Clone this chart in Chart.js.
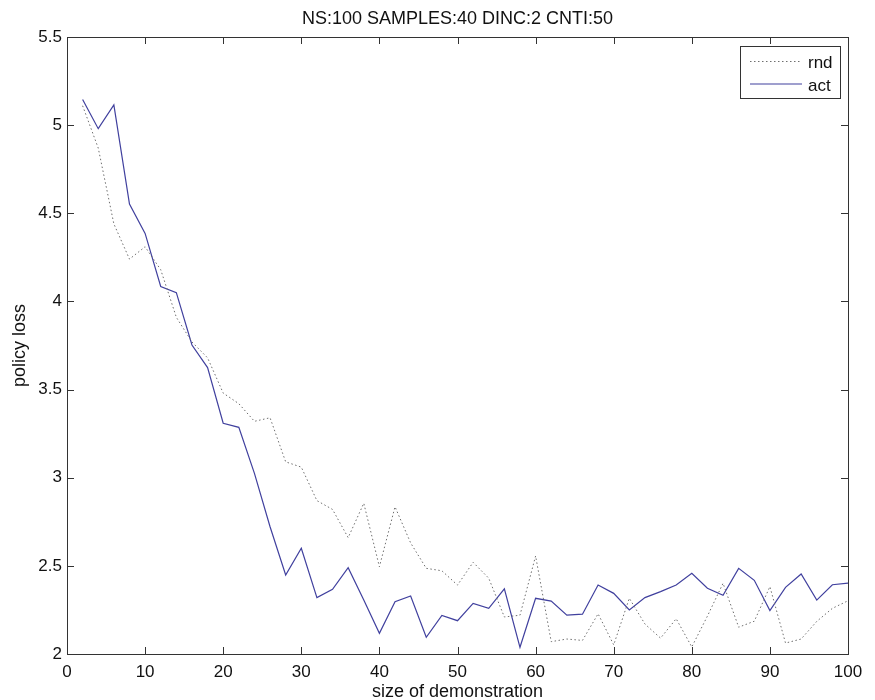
<!DOCTYPE html>
<html>
<head>
<meta charset="utf-8">
<title>policy loss</title>
<script src="https://cdn.jsdelivr.net/npm/chart.js@4.4.1/dist/chart.umd.min.js"></script>
<style>
  html, body { margin: 0; padding: 0; background: #fff; }
  #wrap { width: 875px; height: 700px; }
</style>
</head>
<body>
<div id="wrap"><canvas id="lossChart" width="875" height="700"></canvas></div>
<script>
// demonstration sizes and policy loss for each sampling strategy
const demoSizes = [2, 4, 6, 8, 10, 12, 14, 16, 18, 20, 22, 24, 26, 28, 30, 32, 34, 36, 38, 40,
  42, 44, 46, 48, 50, 52, 54, 56, 58, 60, 62, 64, 66, 68, 70, 72, 74, 76, 78, 80,
  82, 84, 86, 88, 90, 92, 94, 96, 98, 100];
const rndLoss = [5.11, 4.87, 4.44, 4.24, 4.31, 4.18, 3.91, 3.77, 3.68, 3.48,
  3.42, 3.32, 3.34, 3.09, 3.06, 2.87, 2.82, 2.66, 2.855, 2.495,
  2.835, 2.63, 2.486, 2.472, 2.391, 2.52, 2.43, 2.21, 2.22, 2.556,
  2.07, 2.085, 2.077, 2.228, 2.052, 2.316, 2.17, 2.09, 2.2, 2.04,
  2.215, 2.401, 2.152, 2.186, 2.382, 2.062, 2.085, 2.185, 2.259, 2.302];
const actLoss = [5.145, 4.98, 5.115, 4.552, 4.386, 4.085, 4.05, 3.753, 3.625, 3.309,
  3.286, 3.025, 2.722, 2.448, 2.6, 2.32, 2.367, 2.49, 2.306, 2.117,
  2.297, 2.329, 2.095, 2.219, 2.189, 2.287, 2.259, 2.37, 2.038, 2.316,
  2.3, 2.22, 2.226, 2.391, 2.344, 2.25, 2.32, 2.354, 2.391, 2.458,
  2.373, 2.333, 2.486, 2.418, 2.246, 2.378, 2.454, 2.306, 2.393, 2.402];
const xTickValues = [0, 10, 20, 30, 40, 50, 60, 70, 80, 90, 100];
const yTickValues = [2, 2.5, 3, 3.5, 4, 4.5, 5, 5.5];

const titleText = "NS:100 SAMPLES:40 DINC:2 CNTI:50";
const xLabel = "size of demonstration";
const yLabel = "policy loss";

const FONT = '"Liberation Sans", Arial, Helvetica, sans-serif';
const AXIS_COLOR = "#333";

function toPoints(values) {
  return demoSizes.map((x, i) => ({ x: x, y: values[i] }));
}

// matlab style box: frame, inward ticks, title, axis labels and legend
const matlabAxes = {
  id: "matlabAxes",
  afterDatasetsDraw(chart) {
    const ctx = chart.ctx;
    const area = chart.chartArea;
    const xs = chart.scales.x;
    const ys = chart.scales.y;
    const tickLen = 7;

    ctx.save();
    ctx.strokeStyle = AXIS_COLOR;
    ctx.lineWidth = 1;
    ctx.strokeRect(Math.round(area.left) + 0.5, Math.round(area.top) + 0.5,
      Math.round(area.right - area.left), Math.round(area.bottom - area.top));

    ctx.beginPath();
    xTickValues.forEach((v) => {
      const px = Math.round(xs.getPixelForValue(v)) + 0.5;
      ctx.moveTo(px, area.bottom);
      ctx.lineTo(px, area.bottom - tickLen);
      ctx.moveTo(px, area.top);
      ctx.lineTo(px, area.top + tickLen);
    });
    yTickValues.forEach((v) => {
      const py = Math.round(ys.getPixelForValue(v)) + 0.5;
      ctx.moveTo(area.left, py);
      ctx.lineTo(area.left + tickLen, py);
      ctx.moveTo(area.right, py);
      ctx.lineTo(area.right - tickLen, py);
    });
    ctx.stroke();

    // title and axis labels
    ctx.fillStyle = "#111";
    ctx.font = "18px " + FONT;
    ctx.textAlign = "center";
    ctx.textBaseline = "alphabetic";
    const midX = (area.left + area.right) / 2;
    ctx.fillText(titleText, midX, 23.5);
    ctx.fillText(xLabel, midX, 697);
    ctx.save();
    ctx.translate(25, (area.top + area.bottom) / 2);
    ctx.rotate(-Math.PI / 2);
    ctx.fillText(yLabel, 0, 0);
    ctx.restore();

    // legend
    const box = { left: 740.5, top: 46.5, width: 100, height: 52 };
    ctx.fillStyle = "#fff";
    ctx.fillRect(box.left, box.top, box.width, box.height);
    ctx.strokeStyle = AXIS_COLOR;
    ctx.strokeRect(box.left, box.top, box.width, box.height);
    ctx.font = "17px " + FONT;
    ctx.textAlign = "left";
    chart.data.datasets.forEach((ds, i) => {
      const ly = 61.5 + i * 22.5;
      ctx.save();
      ctx.strokeStyle = ds.borderColor;
      ctx.lineWidth = ds.borderWidth;
      ctx.setLineDash(ds.borderDash || []);
      ctx.beginPath();
      ctx.moveTo(750, ly);
      ctx.lineTo(802, ly);
      ctx.stroke();
      ctx.restore();
      ctx.fillStyle = "#111";
      ctx.fillText(ds.label, 808, ly + 6.5);
    });
    ctx.restore();
  },
};

new Chart(document.getElementById("lossChart"), {
  type: "line",
  data: {
    datasets: [
      {
        label: "rnd",
        data: toPoints(rndLoss),
        borderColor: "#6e6e6e",
        borderWidth: 1,
        borderDash: [1.5, 2.5],
        pointRadius: 0,
        tension: 0,
      },
      {
        label: "act",
        data: toPoints(actLoss),
        borderColor: "#40409e",
        borderWidth: 1.2,
        pointRadius: 0,
        tension: 0,
      },
    ],
  },
  options: {
    responsive: false,
    animation: false,
    layout: { padding: { top: 37, right: 27, left: 0, bottom: 0 } },
    plugins: {
      legend: { display: false },
      title: { display: false },
      tooltip: { enabled: false },
    },
    scales: {
      x: {
        type: "linear",
        min: 0,
        max: 100,
        afterBuildTicks: (scale) => {
          scale.ticks = xTickValues.map((v) => ({ value: v }));
        },
        afterFit: (scale) => {
          scale.height = 46;
        },
        grid: { display: false, drawTicks: false },
        border: { display: false },
        ticks: {
          autoSkip: false,
          maxRotation: 0,
          padding: 8,
          color: "#111",
          font: { family: FONT, size: 17 },
          callback: (v) => String(v),
        },
      },
      y: {
        min: 2,
        max: 5.5,
        afterBuildTicks: (scale) => {
          scale.ticks = yTickValues.map((v) => ({ value: v }));
        },
        afterFit: (scale) => {
          scale.width = 67;
        },
        grid: { display: false, drawTicks: false },
        border: { display: false },
        ticks: {
          padding: 5,
          color: "#111",
          font: { family: FONT, size: 17 },
          callback: (v) => String(v),
        },
      },
    },
  },
  plugins: [matlabAxes],
});
</script>
</body>
</html>
